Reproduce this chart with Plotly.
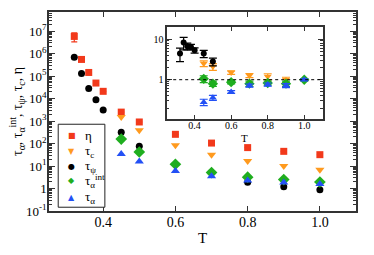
import plotly.graph_objects as go
import numpy as np

# ---------------- data (main panel) ----------------
T_eta = [0.32, 0.34, 0.36, 0.38, 0.40, 0.45, 0.5, 0.6, 0.7, 0.8, 0.9, 1.0]
eta = [5.8e6, 5.5e5, 1.45e5, 4.9e4, 2.1e4, 2.5e3, 910, 257, 105, 66, 45, 32]
eta_err = [2.5e6, 0, 0, 0, 0, 0, 0, 0, 0, 0, 0, 0]

T_psi = [0.32, 0.34, 0.36, 0.38, 0.40, 0.45, 0.5, 0.8, 0.9, 1.0]
tau_psi = [6.8e5, 1.3e5, 2.8e4, 8.9e3, 3.1e3, 316, 76, 1.9, 1.2, 0.89]

T_c = [0.45, 0.5, 0.6, 0.7, 0.8, 0.9, 1.0]
tau_c = [1500, 390, 83, 32, 16.6, 10, 6.9]

T_a = [0.45, 0.5, 0.6, 0.7, 0.8, 0.9, 1.0]
tau_int = [158, 42, 12, 5.1, 3.2, 2.5, 1.95]
tau_alpha = [34, 16, 6.0, 3.5, 2.3, 1.85, 1.6]

# ---------------- data (inset) ----------------
Ti_psi = [0.32, 0.34, 0.36, 0.38, 0.40, 0.45, 0.5]
r_psi = [4.4, 8.2, 6.7, 6.4, 5.3, 4.4, 2.8]
r_psi_err = [1.6, 2.8, 1.3, 1.0, 0.8, 0.9, 0.6]

Ti = [0.45, 0.5, 0.6, 0.7, 0.8, 0.9, 1.0]
r_c = [2.5, 2.1, 1.5, 1.27, 1.2, 1.0, 1.0]
r_c_err = [0.4, 0.4, 0.15, 0.15, 0.2, 0.15, 0.05]
r_int = [1.05, 0.8, 0.87, 0.8, 0.83, 0.8, 1.0]
r_int_err = [0.2, 0.12, 0.08, 0.12, 0.1, 0.12, 0.05]
r_alpha = [0.28, 0.36, 0.5, 0.72, 0.76, 0.72, 1.0]
r_alpha_err = [0.05, 0.05, 0.04, 0.06, 0.07, 0.08, 0.05]

# tick labels
y_major = [1e-1, 1, 1e1, 1e2, 1e3, 1e4, 1e5, 1e6, 1e7]
y_major_text = ["10<sup>-1</sup>", "1", "10<sup>1</sup>", "10<sup>2</sup>", "10<sup>3</sup>",
                "10<sup>4</sup>", "10<sup>5</sup>", "10<sup>6</sup>", "10<sup>7</sup>"]
x_major = [0.4, 0.6, 0.8, 1.0]
x_major_text = ["0.4", "0.6", "0.8", "1.0"]

# legend
legend_labels = ["η", "τ<sub>c</sub>", "τ<sub>ψ</sub>", "τ<sub>α</sub><sup>int</sup>", "τ<sub>α</sub>"]

RED = "#f2391b"
ORANGE = "#ff9a1e"
BLACK = "#000000"
GREEN = "#1fae1f"
BLUE = "#2350f5"
FONT = "Liberation Serif"

legend_colors = [RED, ORANGE, BLACK, GREEN, BLUE]
legend_glyphs = ["■", "▼", "●", "◆", "▲"]

y_minor = [m * 10.0 ** k for k in range(-1, 8) for m in range(2, 10)]
yi_minor = [m * 10.0 ** k for k in range(-1, 2) for m in range(2, 10)]

fig = go.Figure()

ms = 7
fig.add_trace(go.Scatter(x=T_eta, y=eta, mode="markers", name="η",
                         marker=dict(symbol="square", color=RED, size=ms),
                         error_y=dict(type="data", array=eta_err, color=RED, thickness=1.2, width=3)))
fig.add_trace(go.Scatter(x=T_c, y=tau_c, mode="markers", name="τc",
                         marker=dict(symbol="triangle-down", color=ORANGE, size=ms + 1)))
fig.add_trace(go.Scatter(x=T_psi, y=tau_psi, mode="markers", name="τψ",
                         marker=dict(symbol="circle", color=BLACK, size=ms)))
fig.add_trace(go.Scatter(x=T_a, y=tau_int, mode="markers", name="τα int",
                         marker=dict(symbol="diamond", color=GREEN, size=ms + 2)))
fig.add_trace(go.Scatter(x=T_a, y=tau_alpha, mode="markers", name="τα",
                         marker=dict(symbol="triangle-up", color=BLUE, size=ms + 1)))

# inset traces
ims = 6
def err(arr, c):
    return dict(type="data", array=arr, color=c, thickness=1.2, width=4)

fig.add_trace(go.Scatter(x=Ti, y=r_c, mode="markers", xaxis="x2", yaxis="y2",
                         marker=dict(symbol="triangle-down", color=ORANGE, size=ims + 1),
                         error_y=err(r_c_err, ORANGE)))
fig.add_trace(go.Scatter(x=Ti, y=r_int, mode="markers", xaxis="x2", yaxis="y2",
                         marker=dict(symbol="diamond", color=GREEN, size=ims + 2),
                         error_y=err(r_int_err, GREEN)))
fig.add_trace(go.Scatter(x=Ti, y=r_alpha, mode="markers", xaxis="x2", yaxis="y2",
                         marker=dict(symbol="triangle-up", color=BLUE, size=ims + 1),
                         error_y=err(r_alpha_err, BLUE)))
fig.add_trace(go.Scatter(x=Ti_psi, y=r_psi, mode="markers", xaxis="x2", yaxis="y2",
                         marker=dict(symbol="circle", color=BLACK, size=ims),
                         error_y=err(r_psi_err, BLACK)))

axcol = "#333333"
common = dict(showgrid=False, zeroline=False, showline=True, linecolor=axcol, linewidth=1.5,
              mirror="ticks", ticks="inside", tickcolor=axcol, automargin=False)

# manual legend (compact, like the original)
leg_y = [0.380, 0.300, 0.226, 0.151, 0.069]
annotations = []
for lab, col, g, yy in zip(legend_labels, legend_colors, legend_glyphs, leg_y):
    annotations.append(dict(xref="paper", yref="paper", x=0.074, y=yy, text=g, showarrow=False,
                            xanchor="center", yanchor="middle",
                            font=dict(family="DejaVu Sans", size=8, color=col)))
    annotations.append(dict(xref="paper", yref="paper", x=0.112, y=yy, text=lab, showarrow=False,
                            xanchor="left", yanchor="middle",
                            font=dict(family=FONT, size=13, color="black")))
# inset x-axis title
annotations.append(dict(xref="paper", yref="paper", x=0.636, y=0.365, text="T", showarrow=False,
                        xanchor="center", yanchor="middle", font=dict(family=FONT, size=11)))

fig.update_layout(
    width=374, height=255,
    margin=dict(l=49, r=18, t=12, b=44),
    paper_bgcolor="white", plot_bgcolor="white",
    showlegend=False,
    font=dict(family=FONT, color="black"),
    xaxis=dict(range=[0.25, 1.1], tickvals=x_major, ticktext=x_major_text, ticklen=5,
               tickfont=dict(size=14, family=FONT), ticklabelstandoff=-3,
               title=dict(text="T", font=dict(size=15, family=FONT), standoff=4), **common),
    yaxis=dict(type="log", range=[-1, 7.85], tickvals=y_major, ticktext=y_major_text, ticklen=6,
               tickfont=dict(size=13, family=FONT), ticklabelstandoff=-2,
               minor=dict(tickmode="array", tickvals=y_minor, ticks="inside", ticklen=3, tickcolor=axcol),
               title=dict(text="τ<sub>α</sub>, τ<sub>α</sub><sup>int</sup>, τ<sub>ψ</sub>, τ<sub>c</sub>, η",
                          font=dict(size=14, family=FONT), standoff=0), **common),
    xaxis2=dict(domain=[0.385, 0.891], anchor="y2", range=[0.25, 1.1], tickvals=x_major,
                ticktext=x_major_text, ticklen=4, tickfont=dict(size=10, family=FONT),
                ticklabelstandoff=-3, **common),
    yaxis2=dict(domain=[0.464, 0.925], anchor="x2", type="log", range=[-0.96, 1.3],
                tickvals=[1, 10], ticktext=["1", "10"], ticklen=5, tickfont=dict(size=10, family=FONT),
                minor=dict(tickmode="array", tickvals=yi_minor, ticks="inside", ticklen=2.5, tickcolor=axcol),
                **common),
    shapes=[dict(type="line", xref="x2", yref="y2", x0=0.25, x1=1.1, y0=1, y1=1,
                 line=dict(color="black", width=1, dash="dot")),
            dict(type="rect", xref="paper", yref="paper", x0=0.030, x1=0.182, y0=0.019, y1=0.436,
                 line=dict(color="#222222", width=1), fillcolor="white", layer="above")],
    annotations=annotations,
)

fig.write_html("out.html", config={"displayModeBar": False},
               post_script="document.body.style.margin='0';document.body.style.overflow='hidden';")
